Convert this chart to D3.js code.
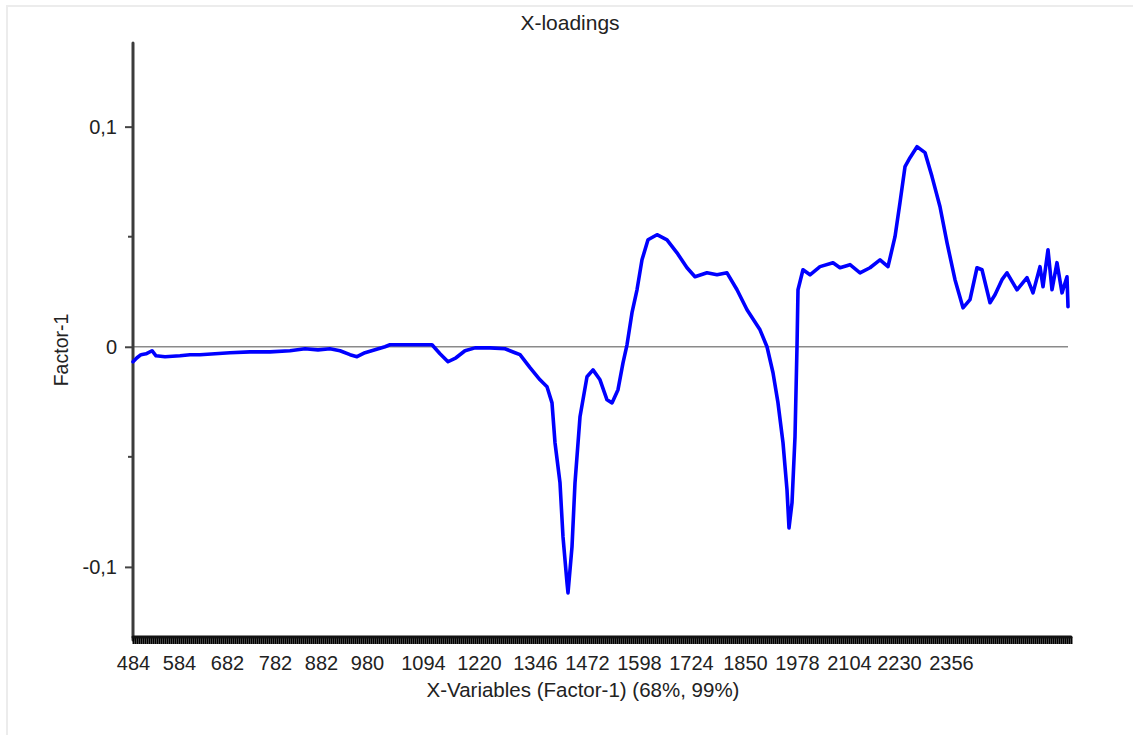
<!DOCTYPE html>
<html>
<head>
<meta charset="utf-8">
<script src="https://cdn.jsdelivr.net/npm/d3@7"></script>
<style>
  body { margin: 0; background: #fff; }
  text { font-family: "Liberation Sans", Arial, sans-serif; fill: #222; }
</style>
</head>
<body>
<div id="chart"></div>
<script>
var width = 1133;
var height = 735;

// x variable index of each point and its Factor-1 loading
var varIdx = [0, 2, 4, 6.5, 9.5, 11.5, 16, 23.5, 28.5, 33.5, 41, 48.5, 58.5, 68.5, 78.5, 86, 92.5, 98.5,
  103.5, 108.5, 112, 116, 121, 126, 128.5, 138.5, 149.5, 153.5, 157.5, 161.5, 166, 171, 178.5, 186, 191,
  193.5, 198.5, 203.5, 207, 209.5, 211, 213.5, 215, 217, 217.5, 219.5, 221, 223.5, 227, 230, 233.5, 237,
  239.5, 242.5, 245, 247, 249.5, 252, 254.5, 257.5, 262, 267, 272, 277, 281, 287, 292, 297, 302, 307,
  313.5, 317, 320, 322.5, 325, 327, 328, 329.5, 331, 332, 332.5, 335, 338.5, 343.5, 350, 353.5, 358.5,
  363.5, 368.5, 373.5, 377.5, 381, 383.5, 386, 388.5, 392, 396, 399.5, 403.5, 407, 411, 415, 418.5, 422,
  424.5, 428.5, 431, 434.5, 437, 442, 447, 450, 453.5, 455, 457.5, 459.5, 462, 464.5, 467, 467.5];

var loading = [-0.0068, -0.0050, -0.0036, -0.0032, -0.0018, -0.0041, -0.0045, -0.0041, -0.0036, -0.0036,
  -0.0032, -0.0027, -0.0023, -0.0023, -0.0018, -0.0009, -0.0014, -0.0009, -0.0018, -0.0036, -0.0045,
  -0.0027, -0.0014, 0, 0.0009, 0.0009, 0.0009, -0.0032, -0.0068, -0.0050, -0.0018, -0.0005, -0.0005,
  -0.0009, -0.0027, -0.0036, -0.0095, -0.0150, -0.0182, -0.0255, -0.0436, -0.0618, -0.0864, -0.1073,
  -0.1118, -0.0909, -0.0618, -0.0318, -0.0136, -0.0105, -0.0150, -0.0241, -0.0255, -0.0195, -0.0073,
  0.0009, 0.0155, 0.0259, 0.0395, 0.0486, 0.0509, 0.0486, 0.0427, 0.0359, 0.0318, 0.0336, 0.0327,
  0.0336, 0.0259, 0.0168, 0.0077, 0, -0.0118, -0.0255, -0.0436, -0.0650, -0.0823, -0.0709, -0.0409, 0,
  0.0259, 0.0350, 0.0327, 0.0364, 0.0382, 0.0359, 0.0373, 0.0336, 0.0359, 0.0395, 0.0364, 0.0500,
  0.0655, 0.0818, 0.0859, 0.0909, 0.0882, 0.0773, 0.0636, 0.0473, 0.0305, 0.0177, 0.0214, 0.0359,
  0.0350, 0.0200, 0.0236, 0.0305, 0.0336, 0.0259, 0.0314, 0.0245, 0.0364, 0.0273, 0.0441, 0.0259,
  0.0382, 0.0245, 0.0318, 0.0182];

// x-variable names shown on the axis, and the variable index where each sits
var xLabels = ["484", "584", "682", "782", "882", "980", "1094", "1220", "1346", "1472", "1598",
  "1724", "1850", "1978", "2104", "2230", "2356"];
var xLabelIdx = [0, 23, 47, 71, 94, 117, 145, 173, 201, 227, 253, 279, 306, 332, 358, 383, 409];

var nVars = 470;
var yTicks = [-0.1, 0, 0.1];
var yMinorTicks = [-0.05, 0.05];

var svg = d3.select("#chart")
    .append("svg")
    .attr("width", width)
    .attr("height", height);

// faint outer frame
svg.append("rect")
    .attr("x", 7)
    .attr("y", 6)
    .attr("width", 1200)
    .attr("height", 800)
    .attr("fill", "none")
    .attr("stroke", "#ececec")
    .attr("stroke-width", 2);

var xScale = d3.scaleLinear()
    .domain([0, 468])
    .range([133, 1069]);

var yScale = d3.scaleLinear()
    .domain([-0.1323, 0.138])
    .range([638, 43]);

// zero line
svg.append("line")
    .attr("x1", xScale(0))
    .attr("x2", xScale(467.5))
    .attr("y1", yScale(0))
    .attr("y2", yScale(0))
    .attr("stroke", "#8a8a8a")
    .attr("stroke-width", 1.5);

// y axis
var yAxis = d3.axisLeft(yScale)
    .tickValues(yTicks)
    .tickSize(8)
    .tickPadding(8)
    .tickFormat(function(d) {
        if (d === 0) return "0";
        return (d < 0 ? "-" : "") + Math.abs(d).toFixed(1).replace(".", ",");
    });

var yG = svg.append("g")
    .attr("transform", "translate(133,0)")
    .call(yAxis);
yG.select(".domain").remove();
yG.selectAll("line").attr("stroke", "#444").attr("stroke-width", 2);
yG.selectAll("text").attr("font-size", 20).style("fill", "#222");

svg.selectAll("line.minor")
    .data(yMinorTicks)
    .enter()
    .append("line")
    .attr("class", "minor")
    .attr("x1", 128)
    .attr("x2", 133)
    .attr("y1", function(d) { return yScale(d); })
    .attr("y2", function(d) { return yScale(d); })
    .attr("stroke", "#444")
    .attr("stroke-width", 2);

svg.append("line")
    .attr("x1", 133)
    .attr("x2", 133)
    .attr("y1", 43)
    .attr("y2", 640)
    .attr("stroke", "#3c3c3c")
    .attr("stroke-width", 3)
    .attr("stroke-linecap", "round");

// x axis: one tick per variable, which makes the dense black band
var allVars = d3.range(0, nVars);
var xTickAxis = d3.axisBottom(xScale)
    .tickValues(allVars)
    .tickSize(7)
    .tickFormat("");

var xG = svg.append("g")
    .attr("transform", "translate(0,637)")
    .call(xTickAxis);
xG.select(".domain").remove();
xG.selectAll("line").attr("stroke", "#000").attr("stroke-width", 1.95);

svg.append("line")
    .attr("x1", 133)
    .attr("x2", xScale(nVars - 1))
    .attr("y1", 637)
    .attr("y2", 637)
    .attr("stroke", "#111")
    .attr("stroke-width", 3)
    .attr("stroke-linecap", "round");

var xLabelAxis = d3.axisBottom(xScale)
    .tickValues(xLabelIdx)
    .tickSize(0)
    .tickPadding(14)
    .tickFormat(function(d, i) { return xLabels[i]; });

var xL = svg.append("g")
    .attr("transform", "translate(0,642)")
    .call(xLabelAxis);
xL.select(".domain").remove();
xL.selectAll("text").attr("font-size", 20).style("fill", "#222");

// loading line
var points = varIdx.map(function(v, i) { return [v, loading[i]]; });

var line = d3.line()
    .x(function(d) { return xScale(d[0]); })
    .y(function(d) { return yScale(d[1]); });

svg.append("path")
    .datum(points)
    .attr("d", line)
    .attr("fill", "none")
    .attr("stroke", "#0000ff")
    .attr("stroke-width", 3.6)
    .attr("stroke-linejoin", "round")
    .attr("stroke-linecap", "round");

// titles
svg.append("text")
    .attr("x", 570)
    .attr("y", 30)
    .attr("text-anchor", "middle")
    .attr("font-size", 21)
    .text("X-loadings");

svg.append("text")
    .attr("x", 583)
    .attr("y", 697)
    .attr("text-anchor", "middle")
    .attr("font-size", 20.5)
    .text("X-Variables (Factor-1) (68%, 99%)");

svg.append("text")
    .attr("transform", "translate(68,350) rotate(-90)")
    .attr("text-anchor", "middle")
    .attr("font-size", 19.5)
    .text("Factor-1");
</script>
</body>
</html>
